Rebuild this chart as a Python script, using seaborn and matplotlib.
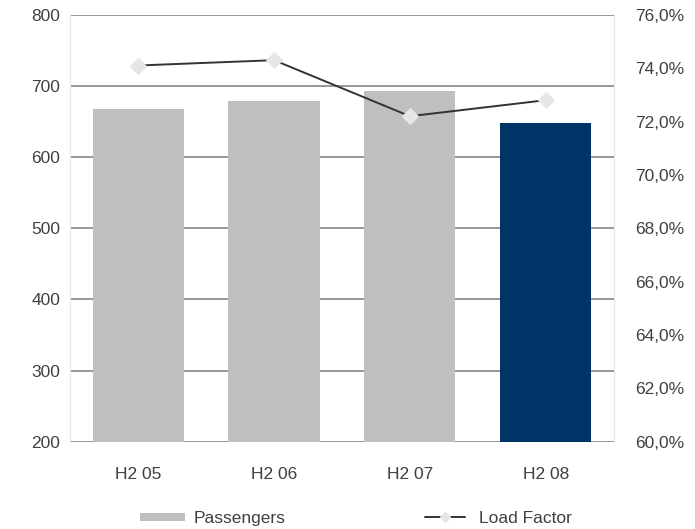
import matplotlib
matplotlib.use("Agg")
import matplotlib.pyplot as plt
from matplotlib.lines import Line2D
from matplotlib.patches import Patch
from matplotlib.ticker import FuncFormatter
import seaborn as sns
import pandas as pd

periods = ["H2 05", "H2 06", "H2 07", "H2 08"]
passengers = [667, 679, 693, 648]
load_factor = [74.1, 74.3, 72.2, 72.8]
bar_colors = ["#bfbfbf", "#bfbfbf", "#bfbfbf", "#003366"]

sns.set_theme(style="white")
plt.rcParams["font.family"] = ["Liberation Sans", "DejaVu Sans"]

df = pd.DataFrame({"period": periods, "passengers": passengers, "load_factor": load_factor})

fig = plt.figure(figsize=(6.95, 5.29), dpi=100)
ax = fig.add_axes([0.101, 0.165, 0.782, 0.807])

text_color = "#404040"
grid_color = "#868686"
fs = 12.5

sns.barplot(data=df, x="period", y="passengers", hue="period", palette=bar_colors,
            legend=False, width=0.67, saturation=1, ax=ax)
for p in ax.patches:
    p.set_edgecolor("none")
ax.set_ylim(200, 800)
ax.set_yticks(range(200, 801, 100))
ax.set_xlim(-0.5, 3.5)
ax.set_axisbelow(True)
ax.grid(axis="y", color=grid_color, lw=1.2)
ax.grid(axis="x", visible=False)
ax.set_xlabel("")
ax.set_ylabel("")
for s in ["top", "bottom"]:
    ax.spines[s].set_visible(False)
for s in ["left", "right"]:
    ax.spines[s].set_color("#e6e6e6")
    ax.spines[s].set_linewidth(0.8)
ax.tick_params(axis="y", colors=text_color, labelsize=fs, length=0, pad=7)
ax.tick_params(axis="x", colors=text_color, labelsize=fs, length=0, pad=18)

ax2 = ax.twinx()
sns.lineplot(data=df, x="period", y="load_factor", ax=ax2, color="#333333", lw=1.4,
             marker="D", markersize=8, markerfacecolor="#e6e6e6",
             markeredgecolor="#e6e6e6", zorder=5)
ax2.set_ylim(60, 76)
ax2.set_yticks(range(60, 77, 2))
ax2.yaxis.set_major_formatter(FuncFormatter(lambda v, p: f"{v:.1f}%".replace(".", ",")))
ax2.set_ylabel("")
ax2.set_xlabel("")
for s in ["top", "bottom", "left", "right"]:
    ax2.spines[s].set_visible(False)
ax2.tick_params(axis="y", colors=text_color, labelsize=fs, length=0, pad=15.5)
ax2.grid(False)

bar_handle = Patch(facecolor="#bfbfbf", edgecolor="none", label="Passengers")
line_handle = Line2D([0], [0], color="#333333", lw=1.4, marker="D", markersize=5,
                     markerfacecolor="#e6e6e6", markeredgecolor="#e6e6e6",
                     label="Load Factor")
leg_kw = dict(frameon=False, fontsize=fs, borderpad=0, borderaxespad=0, loc="center left")
leg1 = fig.legend(handles=[bar_handle], bbox_to_anchor=(0.201, 0.02),
                  handlelength=2.6, handleheight=0.35, handletextpad=0.5, **leg_kw)
leg2 = fig.legend(handles=[line_handle], bbox_to_anchor=(0.612, 0.02),
                  handlelength=2.3, handletextpad=0.8, **leg_kw)
for leg in (leg1, leg2):
    for t in leg.get_texts():
        t.set_color(text_color)

fig.savefig("out.png", dpi=100)
